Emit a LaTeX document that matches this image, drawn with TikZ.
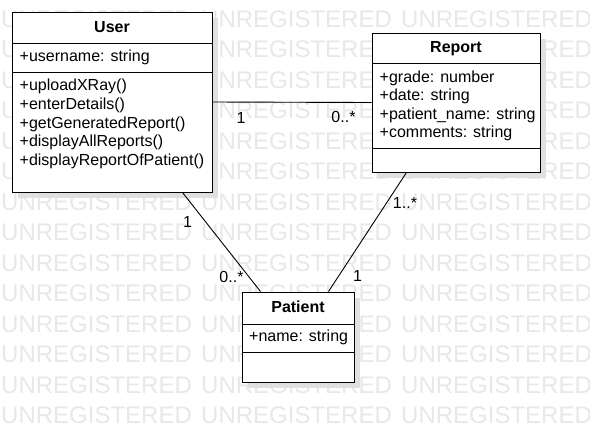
\documentclass[tikz,border=0pt]{standalone}
\usepackage{fontspec}
\setmainfont{Liberation Sans}
\usetikzlibrary{calc,shadows}
\begin{document}
\begin{tikzpicture}[x=1pt,y=-1pt,
  classbox/.style={draw=black,line width=1pt,fill=white,inner sep=0pt,
    drop shadow={shadow xshift=6pt,shadow yshift=-6pt,fill=black!12,opacity=1}},
  divider/.style={draw=black,line width=1pt},
  title/.style={font=\fontsize{16}{19}\selectfont\bfseries,inner sep=0pt,anchor=base},
  member/.style={font=\fontsize{16}{19}\selectfont,inner sep=0pt,anchor=base west},
  mult/.style={font=\fontsize{16}{19}\selectfont,inner sep=0pt},
  assoc/.style={draw=black,line width=0.9pt},
  wm/.style={font=\fontsize{24}{28}\selectfont,text=black!9,inner sep=0pt,anchor=west}]
\useasboundingbox (0,0) rectangle (590,432);
\fill[white] (0,0) rectangle (590,432);
% watermark
\foreach \r in {0,...,13}{
  \foreach \c in {0,1,2}{
    \node[wm] (wm-\r-\c) at ({1+200*\c},{19+30.5*\r}) {UNREGISTERED};
  }
}
% class boxes
\node[classbox,minimum width=200pt,minimum height=180pt] (user) at (112,102) {};
\node[classbox,minimum width=168pt,minimum height=139pt] (report) at (456,102.5) {};
\node[classbox,minimum width=112pt,minimum height=90pt] (patient) at (298,337) {};
% dividers
\draw[divider] (12,43) -- (212,43);
\draw[divider] (12,72) -- (212,72);
\draw[divider] (372,63) -- (540,63);
\draw[divider] (372,148) -- (540,148);
\draw[divider] (242,324) -- (354,324);
\draw[divider] (242,352) -- (354,352);
% User texts
\node[title] (user-t) at (112,32.5) {User};
\node[member] (user-a1) at (19.5,61.7) {+username: string};
\node[member] (user-m1) at (19.5,90.7) {+uploadXRay()};
\node[member] (user-m2) at (19.5,109.4) {+enterDetails()};
\node[member] (user-m3) at (19.5,128.1) {+getGeneratedReport()};
\node[member] (user-m4) at (19.5,146.8) {+displayAllReports()};
\node[member] (user-m5) at (19.5,165.5) {+displayReportOfPatient()};
% Report texts
\node[title] (report-t) at (456,52.4) {Report};
\node[member] (report-a1) at (379.5,82.4) {+grade: number};
\node[member] (report-a2) at (379.5,100.9) {+date: string};
\node[member] (report-a3) at (379.5,119.4) {+patient\_name: string};
\node[member] (report-a4) at (379.5,137.9) {+comments: string};
% Patient texts
\node[title] (patient-t) at (298,312.4) {Patient};
\node[member] (patient-a1) at (249,341.7) {+name: string};
% associations
\draw[assoc] (user.east) -- (report.west);
\coordinate (up1) at ($(user.south west)+(171,0)$);
\coordinate (pu1) at ($(patient.north west)+(19,0)$);
\draw[assoc] (up1) -- (pu1);
\coordinate (rp1) at ($(report.south west)+(35,0)$);
\coordinate (pr1) at ($(patient.north west)+(87,0)$);
\draw[assoc] (rp1) -- (pr1);
% multiplicities
\node[mult] (m-ur-1) at (241,117.5) {1};
\node[mult] (m-ur-2) at (343.5,117) {0..*};
\node[mult] (m-up-1) at (187.5,222) {1};
\node[mult] (m-up-2) at (231.5,277) {0..*};
\node[mult] (m-rp-1) at (405,203) {1..*};
\node[mult] (m-rp-2) at (357.5,276) {1};
\end{tikzpicture}
\end{document}
